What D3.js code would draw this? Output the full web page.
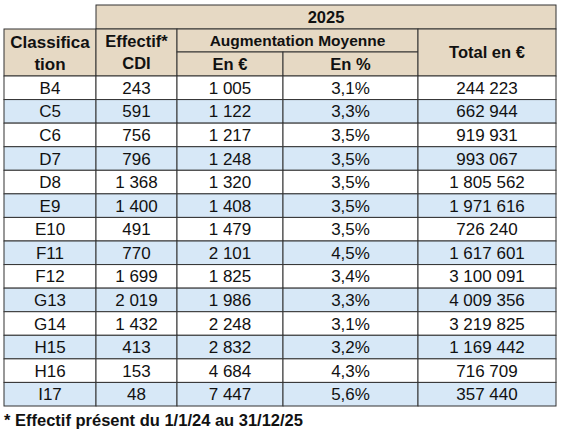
<!DOCTYPE html>
<html><head><meta charset="utf-8">
<script src="https://cdn.jsdelivr.net/npm/d3@7"></script>
<style>body{margin:0;background:#fff}</style>
</head><body>
<svg id="c" width="564" height="435"></svg>
<script>
var classes = ['B4','C5','C6','D7','D8','E9','E10','F11','F12','G13','G14','H15','H16','I17'];
var effectif = ['243','591','756','796','1 368','1 400','491','770','1 699','2 019','1 432','413','153','48'];
var augEuro = ['1 005','1 122','1 217','1 248','1 320','1 408','1 479','2 101','1 825','1 986','2 248','2 832','4 684','7 447'];
var augPct = ['3,1%','3,3%','3,5%','3,5%','3,5%','3,5%','3,5%','4,5%','3,4%','3,3%','3,1%','3,2%','4,3%','5,6%'];
var totals = ['244 223','662 944','919 931','993 067','1 805 562','1 971 616','726 240','1 617 601','3 100 091','4 009 356','3 219 825','1 169 442','716 709','357 440'];

var svg = d3.select('#c');
var colX = [4, 96, 177, 283, 418, 556];
var head = '#e6d9c4', blue = '#d7e8f7', line = '#333';
var font = 'Liberation Sans, Arial, sans-serif';

var y = d3.scaleBand().domain(d3.range(classes.length)).range([76, 406]);

function cell(x0, x1, y0, y1, fill, txt, bold, size) {
    svg.append('rect').attr('x', x0).attr('y', y0).attr('width', x1 - x0).attr('height', y1 - y0)
        .attr('fill', fill).attr('stroke', line).attr('stroke-width', 1);
    if (txt !== undefined) {
        var lines = [].concat(txt);
        var cy = (y0 + y1) / 2, lh = 22;
        lines.forEach(function (t, i) {
            svg.append('text').attr('x', (x0 + x1) / 2).attr('y', cy + (i - (lines.length - 1) / 2) * lh)
                .attr('dy', '0.36em').attr('text-anchor', 'middle')
                .attr('font-family', font).attr('font-size', size || (bold ? 16.5 : 17))
                .attr('font-weight', bold ? 'bold' : 'normal').attr('fill', '#111').text(t);
        });
    }
}

// headers
cell(96, 556, 5, 29, head, '2025', true);
cell(4, 96, 29, 76, head, ['Classifica', 'tion'], true, 17);
cell(96, 177, 29, 76, head, ['Effectif*', 'CDI'], true);
cell(177, 418, 29, 52, head, 'Augmentation Moyenne', true, 15.5);
cell(177, 283, 52, 76, head, 'En €', true);
cell(283, 418, 52, 76, head, 'En %', true);
cell(418, 556, 29, 76, head, 'Total en €', true);

var cols = [classes, effectif, augEuro, augPct, totals];
classes.forEach(function (c, i) {
    var fill = i % 2 ? blue : '#fff';
    cols.forEach(function (arr, j) {
        cell(colX[j], colX[j + 1], y(i), y(i) + y.bandwidth(), fill, arr[i], false);
    });
});

svg.append('text').attr('x', 4).attr('y', 426).attr('font-family', font)
    .attr('font-size', 16.5).attr('font-weight', 'bold').attr('fill', '#111')
    .text('* Effectif présent du 1/1/24 au 31/12/25');
</script>
</body></html>
